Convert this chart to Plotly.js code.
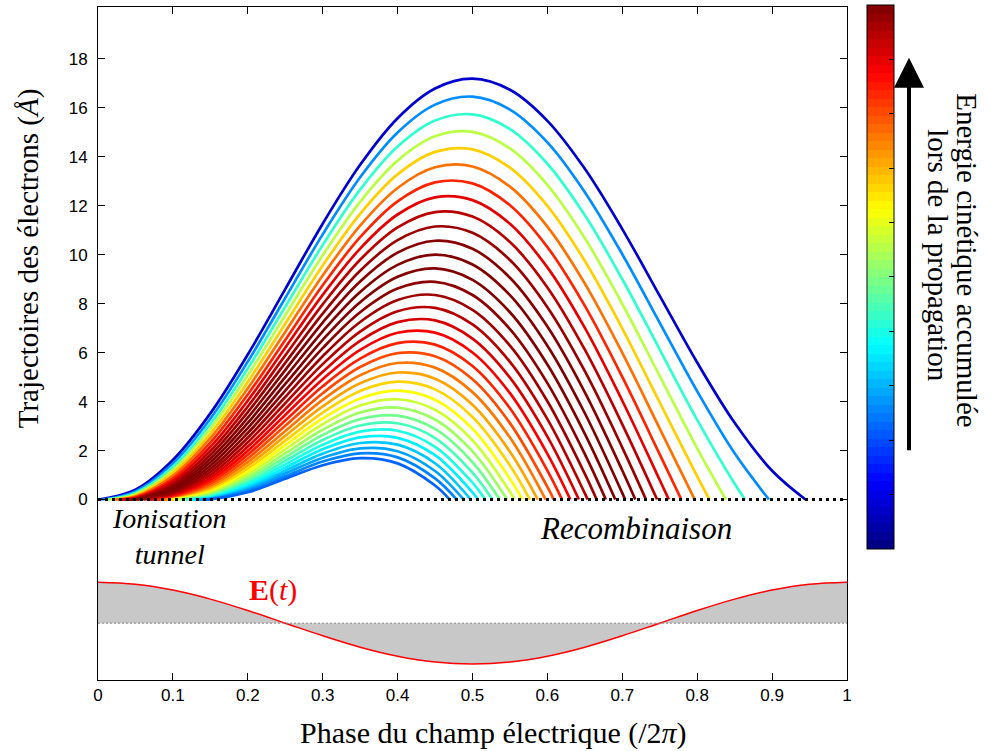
<!DOCTYPE html>
<html><head><meta charset="utf-8">
<script src="https://cdn.plot.ly/plotly-3.0.1.min.js"></script>
<style>body{margin:0;background:#fff}#chart{width:991px;height:751px}</style>
</head><body><div id="chart"></div>
<script>
// ---------- data ----------
const gridPhase = [0,0.05,0.1,0.15,0.2,0.25,0.3,0.35,0.4,0.45,0.5,0.55,0.6,0.65,0.7,0.75,0.8,0.85,0.9,0.95,1];
const ionPhase = [0.0016,0.0059,0.0102,0.0144,0.0187,0.0230,0.0273,0.0316,0.0358,0.0401,0.0444,0.0487,0.0530,0.0573,0.0615,0.0658,0.0701,0.0744,0.0787,0.0829,0.0872,0.0915,0.0958,0.1001,0.1043,0.1086,0.1129,0.1172,0.1215,0.1258,0.1300,0.1343,0.1386,0.1429];
const returnPhase = [0.9446,0.8958,0.8639,0.8383,0.8164,0.7967,0.7788,0.7621,0.7465,0.7316,0.7174,0.7038,0.6907,0.6780,0.6657,0.6537,0.6420,0.6306,0.6195,0.6085,0.5977,0.5871,0.5766,0.5664,0.5562,0.5462,0.5363,0.5265,0.5168,0.5072,0.4977,0.4882,0.4789,0.4696];
const returnEnergy = [0.078,0.263,0.423,0.558,0.672,0.765,0.841,0.900,0.944,0.974,0.993,1.000,0.999,0.988,0.970,0.946,0.916,0.882,0.844,0.802,0.759,0.715,0.668,0.623,0.576,0.530,0.486,0.442,0.400,0.360,0.322,0.286,0.253,0.221];
const trajectories = [
 [0.400,1.613,3.517,5.923,8.593,11.264,13.670,15.574,16.786,17.186,16.732,15.464,13.505,11.044,8.319,5.594,3.133,1.174],
 [0.332,1.471,3.301,5.634,8.230,10.827,13.159,14.989,16.128,16.454,15.926,14.585,12.552,10.017,7.218,4.420,1.885],
 [0.270,1.335,3.092,5.351,7.873,10.396,12.655,14.412,15.477,15.729,15.127,13.712,11.606,8.997,6.125,3.252,0.644],
 [0.215,1.206,2.889,5.075,7.524,9.973,12.158,13.841,14.833,15.012,14.336,12.847,10.668,7.986,5.039,2.093],
 [0.166,1.084,2.693,4.805,7.181,9.557,11.669,13.279,14.197,14.302,13.553,11.991,9.738,6.983,3.963,0.944],
 [0.123,0.968,2.505,4.543,6.846,9.149,11.188,12.724,13.569,13.601,12.779,11.144,8.818,5.989,2.897],
 [0.087,0.859,2.323,4.289,6.518,8.748,10.714,12.178,12.950,12.910,12.015,10.307,7.908,5.006,1.841],
 [0.057,0.757,2.148,4.041,6.199,8.356,10.249,11.640,12.340,12.227,11.260,9.479,7.008,4.034,0.796],
 [0.033,0.661,1.980,3.801,5.887,7.972,9.793,11.112,11.740,11.554,10.515,8.662,6.119,3.072],
 [0.016,0.572,1.819,3.569,5.582,7.596,9.346,10.593,11.149,10.892,9.781,7.856,5.241,2.123],
 [0.005,0.490,1.666,3.344,5.287,7.229,8.907,10.083,10.568,10.240,9.058,7.062,4.376,1.187],
 [0.000,0.414,1.520,3.128,4.999,6.871,8.479,9.584,9.998,9.600,8.347,6.281,3.523,0.264],
 [0.346,1.381,2.919,4.720,6.522,8.060,9.095,9.439,8.971,7.648,5.512,2.684],
 [0.283,1.249,2.717,4.450,6.182,7.650,8.616,8.891,8.353,6.960,4.755,1.858],
 [0.227,1.125,2.524,4.188,5.851,7.251,8.148,8.354,7.747,6.286,4.012,1.046],
 [0.178,1.007,2.339,3.934,5.530,6.861,7.690,7.828,7.154,5.624,3.282,0.249],
 [0.135,0.896,2.161,3.689,5.217,6.482,7.244,7.314,6.572,4.976,2.566],
 [0.098,0.794,1.992,3.454,4.916,6.114,6.810,6.815,6.006,4.344,1.868],
 [0.067,0.698,1.831,3.227,4.624,5.757,6.387,6.327,5.453,3.725,1.184],
 [0.043,0.609,1.677,3.009,4.342,5.410,5.976,5.851,4.913,3.120,0.515],
 [0.024,0.526,1.531,2.800,4.069,5.074,5.576,5.387,4.386,2.530],
 [0.010,0.450,1.393,2.599,3.806,4.748,5.188,4.937,3.873,1.954],
 [0.003,0.381,1.262,2.407,3.552,4.433,4.812,4.499,3.374,1.394],
 [0.318,1.139,2.224,3.309,4.130,4.448,4.075,2.890,0.849],
 [0.262,1.024,2.049,3.075,3.837,4.096,3.664,2.419,0.320],
 [0.212,0.915,1.883,2.851,3.555,3.756,3.267,1.964],
 [0.167,0.814,1.726,2.637,3.284,3.429,2.882,1.523],
 [0.128,0.720,1.576,2.432,3.024,3.114,2.512,1.097],
 [0.095,0.633,1.435,2.237,2.775,2.810,2.155,0.686],
 [0.068,0.553,1.302,2.051,2.537,2.520,1.811,0.290],
 [0.045,0.479,1.177,1.875,2.309,2.241,1.481],
 [0.027,0.411,1.060,1.708,2.092,1.974,1.165],
 [0.014,0.350,0.950,1.550,1.886,1.720,0.862],
 [0.005,0.295,0.848,1.401,1.690,1.477,0.573]
];
const fieldValues = [1,0.951,0.809,0.588,0.309,0,-0.309,-0.588,-0.809,-0.951,-1,-0.951,-0.809,-0.588,-0.309,0,0.309,0.588,0.809,0.951,1];
const baselinePhase = [0,1];
const baselineValue = [0,0];
const xTicks = [0,0.1,0.2,0.3,0.4,0.5,0.6,0.7,0.8,0.9,1];
const yTicks = [0,2,4,6,8,10,12,14,16,18];
const barTicks = [0.1,0.2,0.3,0.4,0.5,0.6,0.7,0.8,0.9];

// ---------- styling helpers ----------
function jet(v){
  const c = x => Math.round(255*Math.max(0,Math.min(1,x)));
  return 'rgb('+c(1.5-Math.abs(4*v-3))+','+c(1.5-Math.abs(4*v-2))+','+c(1.5-Math.abs(4*v-1))+')';
}
const jetScale = [];
for (let i=0;i<64;i++){ const col=jet((i+0.5)/64); jetScale.push([i/64,col]); jetScale.push([(i+1)/64,col]); }

const SERIF = 'Liberation Serif, Times New Roman, serif';
const SANS = 'Liberation Sans, Arial, sans-serif';

const traces = [];
trajectories.forEach((vals,i)=>{
  const t0 = ionPhase[i], tr = returnPhase[i];
  const inner = gridPhase.filter(p => p > t0 && p < tr);
  if (inner.length !== vals.length) console.error('length mismatch', i);
  traces.push({
    type:'scatter', mode:'lines', hoverinfo:'skip', showlegend:false,
    x:[t0].concat(inner,[tr]), y:[0].concat(vals,[0]),
    line:{color:jet(returnEnergy[i]), width:2.7, shape:'spline', smoothing:1}
  });
});
// zero dotted line
traces.push({type:'scatter',mode:'lines',hoverinfo:'skip',x:baselinePhase,y:baselineValue,
  line:{color:'#000',width:3,dash:'3px,4px'}});
// field: invisible baseline, then filled curve, then dashed baseline
traces.push({type:'scatter',mode:'lines',hoverinfo:'skip',x:baselinePhase,y:baselineValue,yaxis:'y2',
  line:{color:'rgba(0,0,0,0)',width:0}});
traces.push({type:'scatter',mode:'lines',hoverinfo:'skip',x:gridPhase,y:fieldValues,yaxis:'y2',
  fill:'tonexty',fillcolor:'rgb(200,200,200)',line:{color:'#ff0000',width:1.5,shape:'spline'}});
traces.push({type:'scatter',mode:'lines',hoverinfo:'skip',x:baselinePhase,y:baselineValue,yaxis:'y2',
  line:{color:'#888',width:1,dash:'2px,2px'}});
// colorbar carrier
traces.push({type:'scatter',mode:'markers',hoverinfo:'skip',x:[0.5],y:[-100],
  marker:{color:[0.5],cmin:0,cmax:1,colorscale:jetScale,size:1,opacity:0,showscale:true,
    colorbar:{x:1.0267,xanchor:'left',xpad:0,y:1.003,yanchor:'top',ypad:0,len:544,lenmode:'pixels',
      thickness:27,thicknessmode:'pixels',outlinewidth:1,outlinecolor:'#000',
      showticklabels:false,ticks:'inside',ticklen:5,tickwidth:1,tickcolor:'#000',
      tickmode:'array',tickvals:barTicks}}});

// left-edge ticks of colour bar
const shapes = barTicks.map(v=>{
  const pyy = 547 - v*544;  // pixel
  const yp = (680-pyy)/675;
  return {type:'line',xref:'paper',yref:'paper',x0:(867-98)/749,x1:(872-98)/749,y0:yp,y1:yp,line:{color:'#000',width:1}};
});

const axisCommon = {showline:true,linecolor:'#000',linewidth:1,mirror:'ticks',ticks:'inside',ticklen:7,
  tickcolor:'#000',showgrid:false,zeroline:false,tickfont:{family:SANS,size:17,color:'#000'}};

const px = v => (v-98)/749;      // paper x from pixel
const py = v => (680-v)/675;     // paper y from pixel

const layout = {
  width:991,height:751,margin:{l:98,r:144,t:5,b:71},
  paper_bgcolor:'#fff',plot_bgcolor:'#fff',showlegend:false,
  xaxis:Object.assign({},axisCommon,{range:[0,1],tickmode:'array',tickvals:xTicks}),
  yaxis:Object.assign({},axisCommon,{range:[-7.37,20.114],tickmode:'array',tickvals:yTicks,ticklabelstandoff:6}),
  yaxis2:{overlaying:'y',range:[-1.39,15.07],visible:false},
  shapes:shapes,
  annotations:[
    {xref:'paper',yref:'paper',x:px(493),y:py(733),xanchor:'center',yanchor:'middle',showarrow:false,
      text:'Phase du champ électrique (/2<i>π</i>)',font:{family:SERIF,size:30,color:'#000'}},
    {xref:'paper',yref:'paper',x:px(28),y:py(257),xanchor:'center',yanchor:'middle',textangle:-90,showarrow:false,
      text:'Trajectoires des électrons (<i>Å</i>)',font:{family:SERIF,size:29,color:'#000'}},
    {xref:'x',yref:'y',x:0.095,y:-1.51,text:'<i>Ionisation</i><br><i>tunnel</i>',showarrow:false,align:'center',
      font:{family:SERIF,size:28,color:'#000'}},
    {xref:'x',yref:'y',x:0.718,y:-1.18,text:'<i>Recombinaison</i>',showarrow:false,font:{family:SERIF,size:31,color:'#000'}},
    {xref:'x',yref:'y',x:0.234,y:-3.70,text:'<b>E</b>(<i>t</i>)',showarrow:false,font:{family:SERIF,size:30,color:'#ff0000'}},
    {xref:'paper',yref:'paper',x:px(909),y:py(56),ax:0,ay:394,text:'',showarrow:true,
      arrowhead:2,arrowsize:1.5,arrowwidth:4,arrowcolor:'#000',standoff:0},
    {xref:'paper',yref:'paper',x:px(967),y:py(259),xanchor:'center',yanchor:'middle',textangle:90,showarrow:false,
      text:'Energie cinétique accumulée',font:{family:SERIF,size:29,color:'#000'}},
    {xref:'paper',yref:'paper',x:px(938),y:py(255),xanchor:'center',yanchor:'middle',textangle:90,showarrow:false,
      text:'lors de la propagation',font:{family:SERIF,size:29,color:'#000'}}
  ]
};
Plotly.newPlot('chart',traces,layout,{displayModeBar:false,staticPlot:true});
</script>
</body></html>
